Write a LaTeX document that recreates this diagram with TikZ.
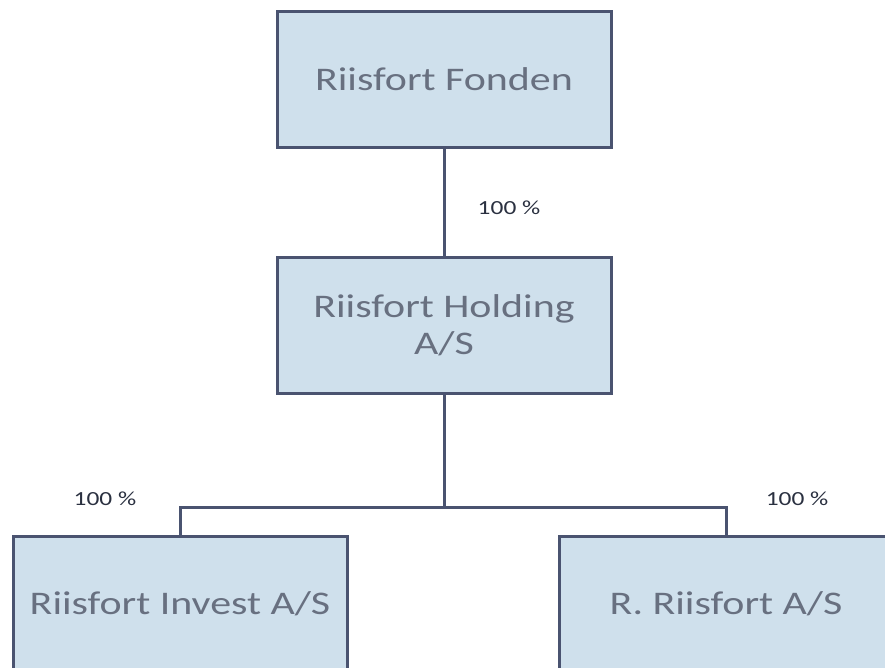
\documentclass[tikz,border=0pt]{standalone}
\usepackage{fontspec}
\newfontfamily\boxfont[FakeStretch=1.27]{Carlito}
\definecolor{boxfill}{HTML}{CFE0EC}
\definecolor{boxline}{HTML}{4A5370}
\definecolor{boxtext}{HTML}{687080}
\definecolor{labtext}{HTML}{2A3040}
\begin{document}
\begin{tikzpicture}[x=1pt,y=-1pt,
  entity/.style={draw=boxline, fill=boxfill, line width=3pt, minimum width=334pt, minimum height=136pt,
    inner sep=0pt, align=center, text=boxtext, font=\boxfont\fontsize{33}{37}\selectfont},
  share/.style={text=labtext, font=\boxfont\fontsize{20}{24}\selectfont, inner sep=0pt},
  link/.style={draw=boxline, line width=3pt}]
\useasboundingbox (0,0) rectangle (885,667);
\node[entity] (fonden) at (444,79) {Riisfort Fonden};
\node[entity] (holding) at (444,325.5) {Riisfort Holding\\A/S};
\node[entity] (invest) at (180,604) {Riisfort Invest A/S};
\node[entity] (rr) at (726,604) {R. Riisfort A/S};
\coordinate (bus) at (444,507);
\draw[link] (fonden.south) -- (holding.north);
\draw[link] (holding.south) -- (bus);
\draw[link] (invest.north) |- (bus) -| (rr.north);
\node[share] (l1) at (509,208) {100 \%};
\node[share] (l2) at (105,499) {100 \%};
\node[share] (l3) at (797,499) {100 \%};
\end{tikzpicture}
\end{document}
